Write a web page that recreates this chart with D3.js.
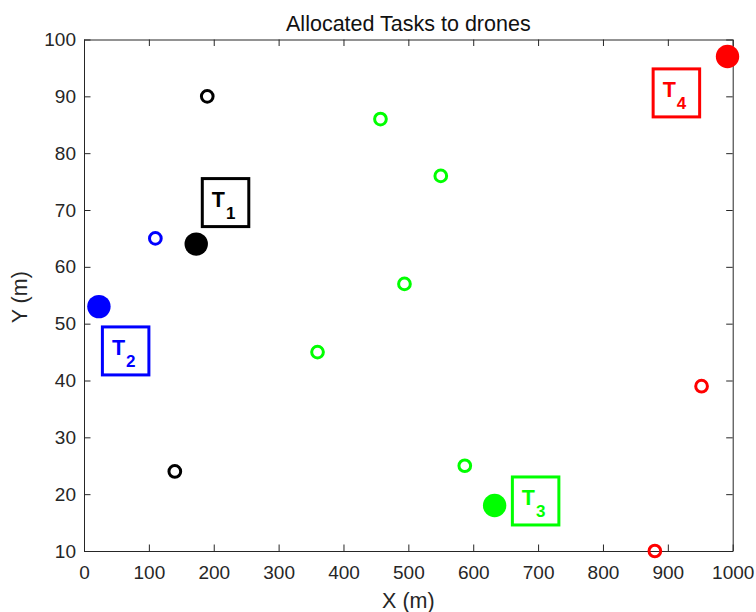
<!DOCTYPE html>
<html>
<head>
<meta charset="utf-8">
<script src="https://cdn.jsdelivr.net/npm/d3@7"></script>
<style>
  html, body { margin: 0; padding: 0; background: #fff; }
  svg { display: block; font-family: "Liberation Sans", Arial, Helvetica, sans-serif; }
</style>
</head>
<body>
<svg id="chart" width="756" height="612"></svg>
<script>
// Task indices and their colours
const tasks = [1, 2, 3, 4];
const taskColors = ["#000000", "#0000ff", "#00ff00", "#ff0000"];

// Drone positions (hollow markers), grouped by the task they were given
const droneTask = [1, 1, 2, 3, 3, 3, 3, 3, 4, 4];
const droneX    = [190, 140, 110, 360, 457, 550, 494, 587, 952, 880];
const droneY    = [ 90,  24,  65,  45,  86,  76,  57,  25,  39,  10];

// Task positions (filled markers)
const taskX = [173, 23, 633, 992];
const taskY = [ 64, 53,  18,  97];

// Anchor of each task's boxed label (data units)
const labelX = [197, 43, 675, 892];
const labelY = [70.6, 44.5, 18.1, 89.9];

// Axis ticks
const xTicks = [0, 100, 200, 300, 400, 500, 600, 700, 800, 900, 1000];
const yTicks = [10, 20, 30, 40, 50, 60, 70, 80, 90, 100];

const svg = d3.select("#chart");
const plotLeft = 84, plotRight = 732.7, plotTop = 39.5, plotBottom = 551;

const x = d3.scaleLinear().domain([0, 1000]).range([plotLeft, plotRight]);
const y = d3.scaleLinear().domain([10, 100]).range([plotBottom, plotTop]);

const axisColor = "#262626";
const tickLen = 6.5;
const fmt = d3.format("d");

// Axes box with inward ticks on all four sides
const axBottom = d3.axisBottom(x).tickValues(xTicks).tickFormat(fmt).tickSizeInner(-tickLen).tickSizeOuter(0).tickPadding(14.5);
const axTop = d3.axisTop(x).tickValues(xTicks).tickSizeInner(-tickLen).tickSizeOuter(0).tickFormat("");
const axLeft = d3.axisLeft(y).tickValues(yTicks).tickFormat(fmt).tickSizeInner(-tickLen).tickSizeOuter(0).tickPadding(8);
const axRight = d3.axisRight(y).tickValues(yTicks).tickSizeInner(-tickLen).tickSizeOuter(0).tickFormat("");

function style(g) {
  g.selectAll(".domain").attr("stroke", axisColor).attr("stroke-width", 1);
  g.selectAll(".tick line").attr("stroke", axisColor).attr("stroke-width", 1);
  g.selectAll(".tick text").attr("fill", axisColor).attr("font-size", 19)
    .attr("font-family", "'Liberation Sans', Arial, Helvetica, sans-serif");
}

svg.append("g").attr("transform", `translate(0,${plotBottom})`).call(axBottom).call(style);
svg.append("g").attr("transform", `translate(0,${plotTop})`).call(axTop).call(style);
svg.append("g").attr("transform", `translate(${plotLeft},0)`).call(axLeft).call(style);
svg.append("g").attr("transform", `translate(${plotRight},0)`).call(axRight).call(style);

// Title and axis labels
svg.append("text")
  .attr("x", (plotLeft + plotRight) / 2).attr("y", 31)
  .attr("text-anchor", "middle").attr("font-size", 21.5).attr("fill", "#111")
  .text("Allocated Tasks to drones");

svg.append("text")
  .attr("x", (plotLeft + plotRight) / 2).attr("y", 608)
  .attr("text-anchor", "middle").attr("font-size", 21.5).attr("fill", axisColor)
  .text("X (m)");

svg.append("text")
  .attr("transform", `translate(27,${(plotTop + plotBottom) / 2 + 2}) rotate(-90)`)
  .attr("text-anchor", "middle").attr("font-size", 21.5).attr("fill", axisColor)
  .text("Y (m)");

const colorOf = t => taskColors[tasks.indexOf(t)];

// Drones: hollow circles
svg.append("g").selectAll("circle")
  .data(droneX.map((d, i) => ({ x: d, y: droneY[i], t: droneTask[i] })))
  .join("circle")
  .attr("cx", d => x(d.x)).attr("cy", d => y(d.y))
  .attr("r", 5.85)
  .attr("fill", "none")
  .attr("stroke", d => colorOf(d.t))
  .attr("stroke-width", 3);

// Tasks: filled circles
svg.append("g").selectAll("circle")
  .data(tasks.map((t, i) => ({ x: taskX[i], y: taskY[i], t })))
  .join("circle")
  .attr("cx", d => x(d.x)).attr("cy", d => y(d.y))
  .attr("r", 11.7)
  .attr("fill", d => colorOf(d.t));

// Boxed task labels T_n
const labels = svg.append("g").selectAll("g")
  .data(tasks.map((t, i) => ({ x: labelX[i], y: labelY[i], t })))
  .join("g")
  .attr("transform", d => `translate(${x(d.x)},${y(d.y)})`);

labels.append("rect")
  .attr("x", -9.5).attr("y", -28)
  .attr("width", 46.5).attr("height", 48)
  .attr("fill", "none")
  .attr("stroke", d => colorOf(d.t))
  .attr("stroke-width", 3);

const lt = labels.append("text")
  .attr("x", 0).attr("y", 0)
  .attr("font-weight", "bold")
  .attr("fill", d => colorOf(d.t));
lt.append("tspan").attr("font-size", 21.5).text("T");
lt.append("tspan").attr("font-size", 17).attr("dx", 1).attr("dy", 12.5).text(d => d.t);
</script>
</body>
</html>
